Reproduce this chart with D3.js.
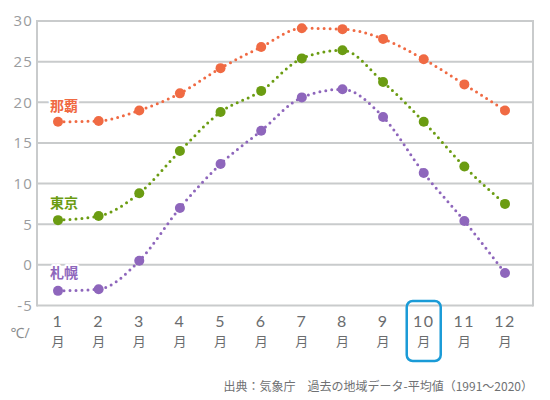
<!DOCTYPE html>
<html><head><meta charset="utf-8">
<script src="https://cdn.jsdelivr.net/npm/d3@7"></script>
<style>body{margin:0;background:#fff}svg{display:block;font-family:"Noto Sans CJK JP","Noto Sans",sans-serif}</style>
</head><body>
<script>
const months = [1,2,3,4,5,6,7,8,9,10,11,12];
const monthSuffix = "月";
const yTicks = [-5,0,5,10,15,20,25,30];
const naha = [17.6,17.7,19.0,21.1,24.2,26.8,29.1,29.0,27.8,25.3,22.2,19.0];
const tokyo = [5.5,6.0,8.8,14.0,18.8,21.4,25.4,26.4,22.5,17.6,12.1,7.5];
const sapporo = [-3.2,-3.0,0.5,7.0,12.4,16.5,20.6,21.6,18.2,11.3,5.4,-1.0];
const seriesNames = ["那覇","東京","札幌"];
const highlightMonth = 10;
const unitLabel = "℃/";
const sourceText = "出典：気象庁　過去の地域データ-平均値（1991～2020）";

(function(){
const W=550,H=400;
const pL=37,pR=533,pT=21,pB=305.5;
const svg=d3.select("body").append("svg").attr("width",W).attr("height",H);
const x=d3.scalePoint().domain(months).range([58,505]);
const y=d3.scaleLinear().domain([-5,30]).range([pB,pT]);

svg.append("g").selectAll("line").data(yTicks).join("line")
 .attr("x1",pL).attr("x2",pR).attr("y1",d=>y(d)).attr("y2",d=>y(d))
 .attr("stroke","#c9cbcc").attr("stroke-width",2);
svg.append("line").attr("x1",pL).attr("x2",pL).attr("y1",pT-1).attr("y2",pB+1).attr("stroke","#c9cbcc").attr("stroke-width",2);
svg.append("line").attr("x1",pR).attr("x2",pR).attr("y1",pT-1).attr("y2",pB+1).attr("stroke","#c9cbcc").attr("stroke-width",2);

svg.append("g").selectAll("text").data(yTicks).join("text")
 .attr("x",33).attr("y",d=>y(d)).attr("dy","0.36em").attr("text-anchor","end")
 .attr("fill","#9a9c9e").attr("font-size",15).attr("letter-spacing",1.2)
 .attr("font-family","'Open Sans', 'Noto Sans', sans-serif").text(d=>d);

svg.append("g").selectAll("text").data(months).join("text")
 .attr("x",d=>x(d)).attr("y",327).attr("text-anchor","middle").attr("fill","#6a6c6e")
 .attr("font-size",16).attr("letter-spacing",1.5)
 .attr("font-family","Lato, 'Noto Sans', sans-serif").text(d=>d);
svg.append("g").selectAll("text").data(months).join("text")
 .attr("x",d=>x(d)).attr("y",346).attr("text-anchor","middle").attr("fill","#6a6c6e")
 .attr("font-size",13).text(monthSuffix);

svg.append("text").attr("x",20).attr("y",333).attr("dy","0.36em").attr("text-anchor","middle")
 .attr("fill","#8a8c8e").attr("font-size",14).attr("font-family","'Open Sans', 'Noto Sans', sans-serif").text(unitLabel);

svg.append("rect").attr("x",x(highlightMonth)-17).attr("y",301).attr("width",34).attr("height",60)
 .attr("rx",6).attr("fill","none").attr("stroke","#1a9bd7").attr("stroke-width",2.5);

const series=[
 {name:seriesNames[0],values:naha,color:"#f06a43",lx:64,ly:106},
 {name:seriesNames[1],values:tokyo,color:"#6b9c12",lx:64,ly:203},
 {name:seriesNames[2],values:sapporo,color:"#8e66bc",lx:64,ly:273}
];
const line=d3.line().x((d,i)=>x(months[i])).y(d=>y(d)).curve(d3.curveMonotoneX);
series.forEach(s=>{
 const g=svg.append("g");
 g.append("path").attr("d",line(s.values)).attr("fill","none").attr("stroke",s.color)
  .attr("stroke-width",3).attr("stroke-linecap","round").attr("stroke-dasharray","0 6");
 g.selectAll("circle").data(s.values).join("circle")
  .attr("cx",(d,i)=>x(months[i])).attr("cy",d=>y(d)).attr("r",5).attr("fill",s.color);
 g.append("text").attr("x",s.lx).attr("y",s.ly).attr("dy","0.36em").attr("text-anchor","middle")
  .attr("font-size",14).attr("font-weight","bold").attr("fill",s.color)
  .attr("stroke","#fff").attr("stroke-width",4).attr("paint-order","stroke").attr("stroke-linejoin","round")
  .text(s.name);
});

svg.append("text").attr("x",533).attr("y",387).attr("dy","0.36em").attr("text-anchor","end")
 .attr("fill","#6f7173").attr("font-size",12).text(sourceText);
})();
</script>
</body></html>
